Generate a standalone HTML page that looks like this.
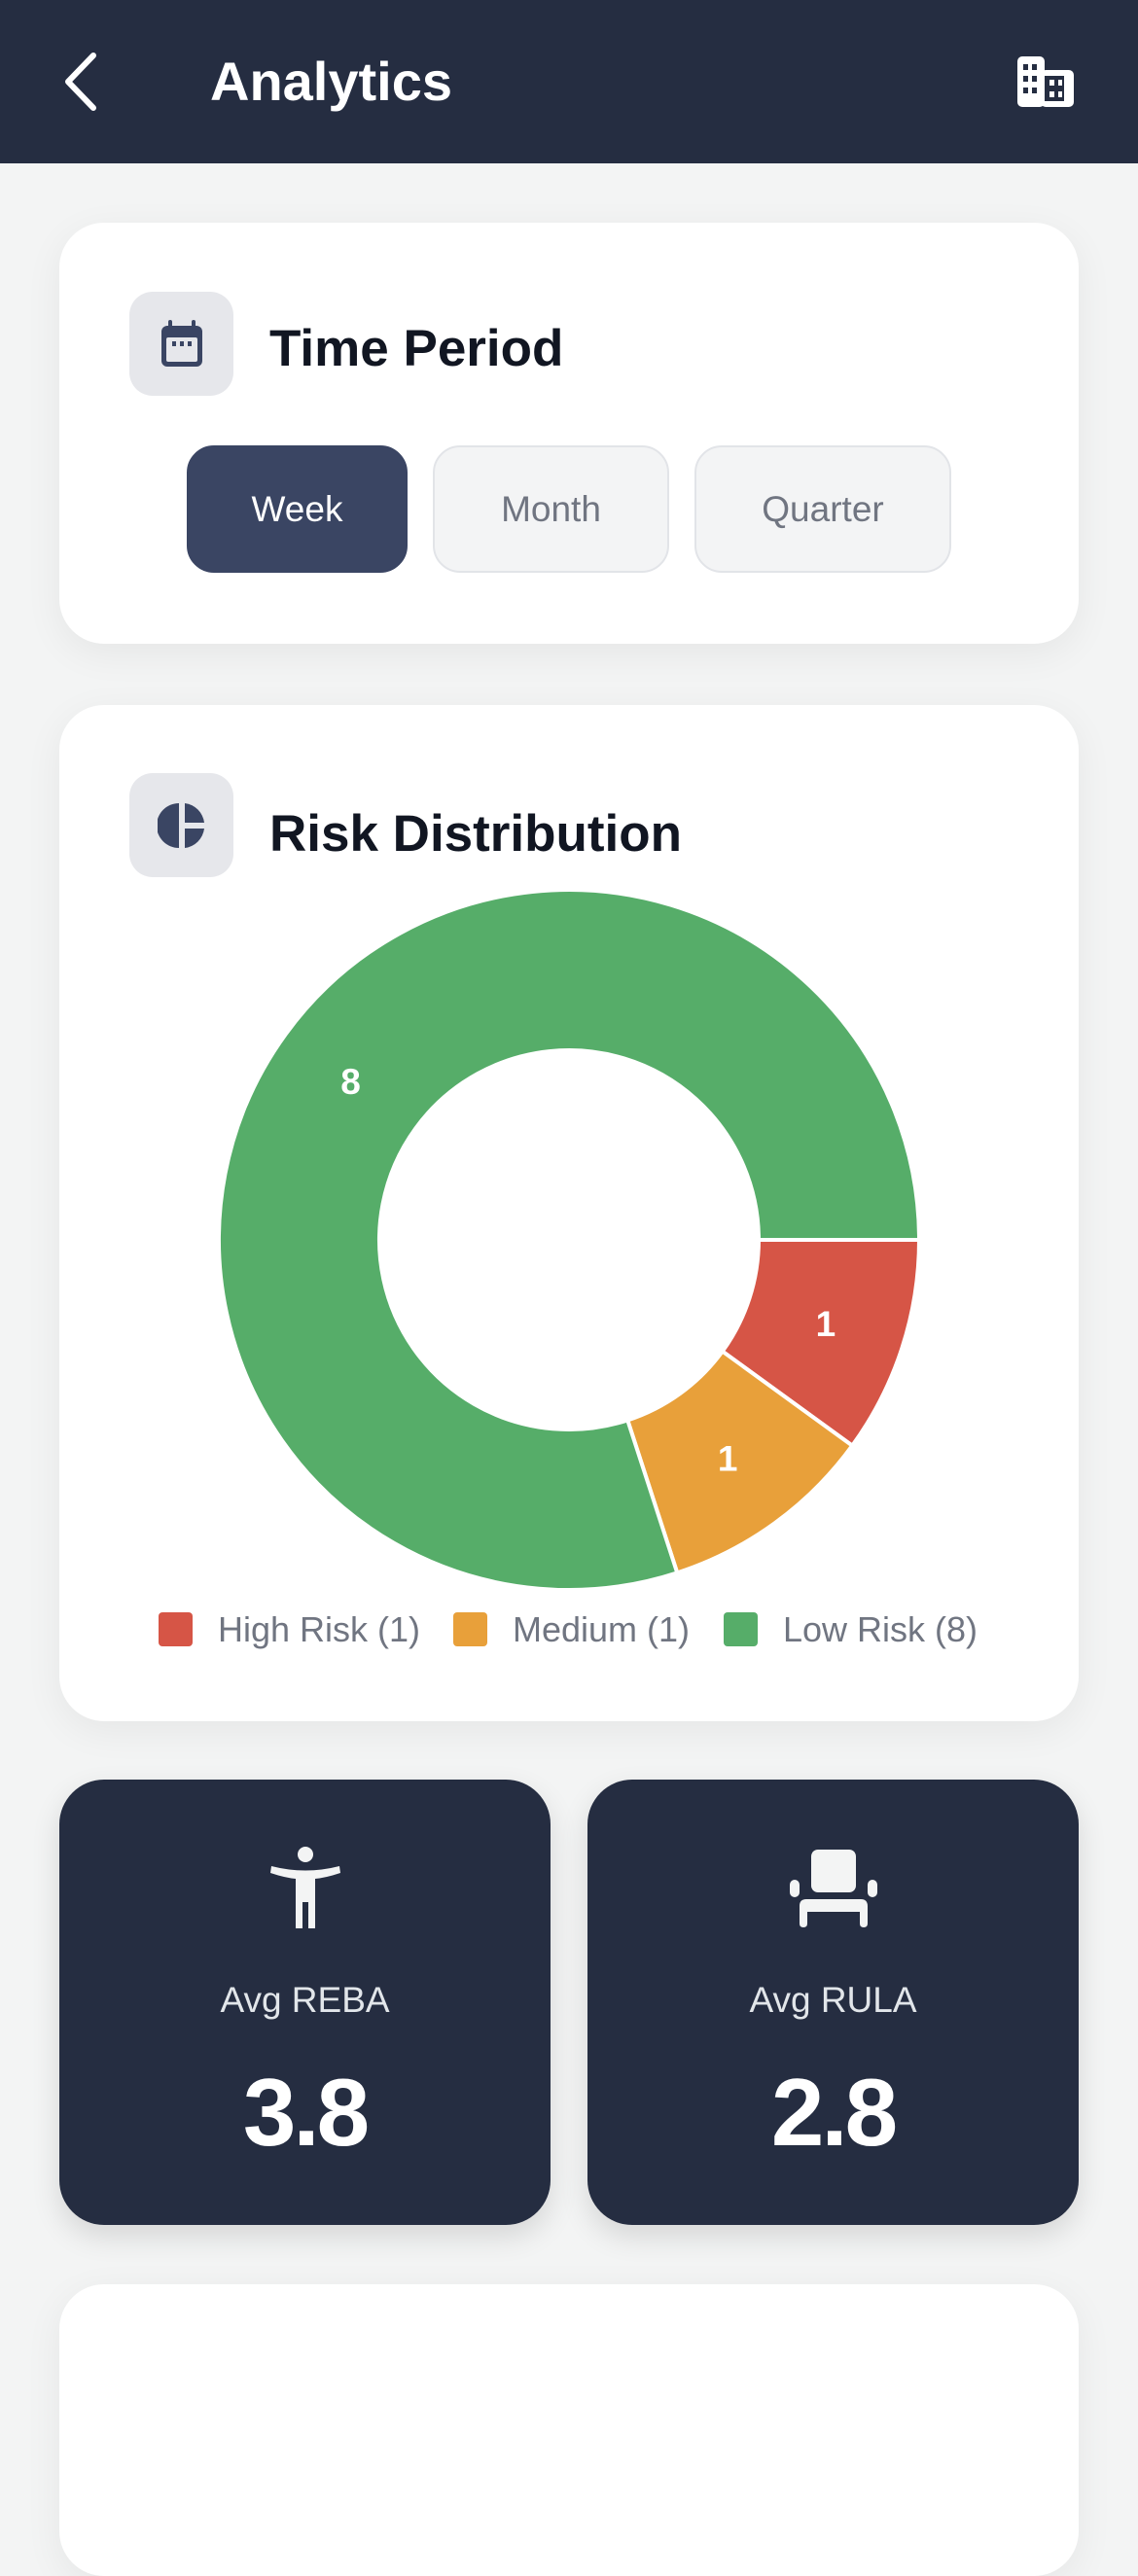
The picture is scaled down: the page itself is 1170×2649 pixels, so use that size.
<!DOCTYPE html>
<html><head><meta charset="utf-8">
<style>
*{margin:0;padding:0;box-sizing:border-box}
body{width:1170px;height:2391px;background:#f3f4f4;font-family:"Liberation Sans",sans-serif;position:relative;overflow:hidden}
.abs{position:absolute}
.card{position:absolute;background:#fff;border-radius:46px;box-shadow:0 10px 40px rgba(0,0,0,0.06)}
.ibox{position:absolute;width:107px;height:107px;border-radius:24px;background:#e6e7eb;display:flex;align-items:center;justify-content:center}
.title{position:absolute;font-weight:bold;font-size:53px;color:#111622;line-height:1}
.btn{position:absolute;height:131px;border-radius:28px;display:flex;align-items:center;justify-content:center;font-size:37px;color:#707581;background:#f3f4f5;border:2px solid #e2e4e8}
.stat{position:absolute;top:1830px;width:505px;height:458px;background:#252d41;border-radius:46px;box-shadow:0 12px 30px rgba(0,0,0,0.12);color:#fff;text-align:center}
.lbl{position:absolute;width:100%;top:206px;font-size:37px;color:#e2e6ea}
.val{position:absolute;width:100%;top:286px;font-size:98px;font-weight:bold;letter-spacing:-3px}
</style></head><body>
<div class="abs" style="left:0;top:0;width:1170px;height:168px;background:#252d41">
  <svg class="abs" style="left:60px;top:52px" width="50" height="64" viewBox="0 0 50 64"><polyline points="36,5 10,32 36,59" fill="none" stroke="#fff" stroke-width="6" stroke-linecap="round" stroke-linejoin="round"/></svg>
  <div class="abs" style="left:216px;top:56px;font-size:56px;font-weight:bold;color:#fff;line-height:1">Analytics</div>
  <svg class="abs" style="left:1044px;top:56px" width="62" height="56" viewBox="0 0 62 56">
    <rect x="2" y="2" width="28" height="52" rx="5" fill="#fff"/><rect x="26" y="16" width="34" height="38" rx="5" fill="#fff"/>
    <g fill="#252d41"><rect x="8" y="10" width="5" height="6"/><rect x="17" y="10" width="5" height="6"/><rect x="8" y="22" width="5" height="6"/><rect x="17" y="22" width="5" height="6"/><rect x="8" y="34" width="5" height="6"/><rect x="17" y="34" width="5" height="6"/><rect x="30" y="22" width="20" height="26"/></g>
    <g fill="#fff"><rect x="35" y="26" width="5" height="6"/><rect x="35" y="38" width="5" height="6"/><rect x="44" y="26" width="4" height="6"/><rect x="44" y="38" width="4" height="6"/></g>
  </svg>
</div>

<div class="card" style="left:61px;top:229px;width:1048px;height:433px">
  <div class="ibox" style="left:72px;top:71px">
    <svg width="48" height="52" viewBox="0 0 48 52"><rect x="3" y="7" width="42" height="42" rx="6" fill="#3a4563"/><rect x="8" y="19" width="32" height="25" rx="2" fill="#e6e7eb"/><rect x="10" y="1" width="4" height="10" rx="2" fill="#3a4563"/><rect x="34" y="1" width="4" height="10" rx="2" fill="#3a4563"/><g fill="#3a4563"><rect x="14" y="23" width="4" height="5"/><rect x="22" y="23" width="4" height="5"/><rect x="30" y="23" width="4" height="5"/></g></svg>
  </div>
  <div class="title" style="left:216px;top:103px">Time Period</div>
  <div class="btn" style="left:131px;top:229px;width:227px;background:#3a4563;border-color:#3a4563;color:#fff">Week</div>
  <div class="btn" style="left:384px;top:229px;width:243px">Month</div>
  <div class="btn" style="left:653px;top:229px;width:264px">Quarter</div>
</div>

<div class="card" style="left:61px;top:725px;width:1048px;height:1045px">
  <div class="ibox" style="left:72px;top:70px">
    <svg width="50" height="50" viewBox="0 0 50 50"><path d="M22 2 A23 23 0 0 0 22 48 Z" fill="#3a4563"/><path d="M28 2 A23 23 0 0 1 48 22 L28 22 Z" fill="#3a4563"/><path d="M28 28 L48 28 A23 23 0 0 1 28 48 Z" fill="#3a4563"/></svg>
  </div>
  <div class="title" style="left:216px;top:106px">Risk Distribution</div>
  <svg class="abs" id="donut" style="left:0;top:0" width="1048" height="1045"></svg>
</div>

<div class="stat" style="left:61px">
  <svg class="abs" style="left:214px;top:68px" width="78" height="86" viewBox="0 0 78 86"><circle cx="39" cy="9" r="8" fill="#f3f4f4"/><path d="M4 21 Q39 30 74 21 L75 28 Q60 33 49 34 L49 85 L42 85 L42 58 L36 58 L36 85 L29 85 L29 34 Q18 33 3 28 Z" fill="#f3f4f4"/></svg>
  <div class="lbl">Avg REBA</div>
  <div class="val">3.8</div>
</div>
<div class="stat" style="left:604px">
  <svg class="abs" style="left:208px;top:72px" width="90" height="80" viewBox="0 0 90 80"><rect x="22" y="0" width="46" height="44" rx="7" fill="#f3f4f4"/><rect x="0" y="31" width="10" height="18" rx="5" fill="#f3f4f4"/><rect x="80" y="31" width="10" height="18" rx="5" fill="#f3f4f4"/><path d="M10 58 Q10 51 17 51 L73 51 Q80 51 80 58 L80 76 Q80 80 76 80 Q72 80 72 76 L72 64 L18 64 L18 76 Q18 80 14 80 Q10 80 10 76 Z" fill="#f3f4f4"/></svg>
  <div class="lbl">Avg RULA</div>
  <div class="val">2.8</div>
</div>

<div class="card" style="left:61px;top:2349px;width:1048px;height:300px"></div>

<script>
const categories = ["High Risk", "Medium", "Low Risk"];
const counts = [1, 1, 8];
const colors = ["#d65546", "#e8a03a", "#56ad69"];
const svg = document.getElementById('donut');
const NS = 'http://www.w3.org/2000/svg';
const cx = 524, cy = 550, R = 360, r = 195;
const total = counts.reduce((a, b) => a + b, 0);
function pt(rad, a) { return [cx + rad * Math.cos(a), cy + rad * Math.sin(a)]; }
let a0 = 0;
counts.forEach((v, i) => {
  const a1 = a0 + v / total * Math.PI * 2;
  const large = (a1 - a0) > Math.PI ? 1 : 0;
  const [x0, y0] = pt(R, a0), [x1, y1] = pt(R, a1), [x2, y2] = pt(r, a1), [x3, y3] = pt(r, a0);
  const p = document.createElementNS(NS, 'path');
  p.setAttribute('d', `M${x0} ${y0} A${R} ${R} 0 ${large} 1 ${x1} ${y1} L${x2} ${y2} A${r} ${r} 0 ${large} 0 ${x3} ${y3} Z`);
  p.setAttribute('fill', colors[i]);
  p.setAttribute('stroke', '#fff');
  p.setAttribute('stroke-width', '4');
  
  
  svg.appendChild(p);
  const am = (a0 + a1) / 2;
  const [tx, ty] = pt((R + r) / 2, am);
  const t = document.createElementNS(NS, 'text');
  t.setAttribute('x', tx); t.setAttribute('y', ty + 13);
  t.setAttribute('text-anchor', 'middle');
  t.setAttribute('fill', '#fff');
  t.setAttribute('font-size', '37');
  t.setAttribute('font-weight', 'bold');
  t.setAttribute('font-family', 'Liberation Sans, sans-serif');
  
  
  t.textContent = v;
  svg.appendChild(t);
  a0 = a1;
});
const legX = [102, 405, 683];
categories.forEach((c, i) => {
  const g = document.createElementNS(NS, 'g');
  
  
  const s = document.createElementNS(NS, 'rect');
  s.setAttribute('x', legX[i]); s.setAttribute('y', 933); s.setAttribute('width', 35); s.setAttribute('height', 35); s.setAttribute('rx', 4);
  s.setAttribute('fill', colors[i]);
  g.appendChild(s);
  const t = document.createElementNS(NS, 'text');
  t.setAttribute('x', legX[i] + 61); t.setAttribute('y', 963);
  t.setAttribute('fill', '#707581'); t.setAttribute('font-size', '36');
  t.setAttribute('font-family', 'Liberation Sans, sans-serif');
  t.textContent = c + ' (' + counts[i] + ')';
  g.appendChild(t);
  svg.appendChild(g);
});
</script>
</body></html>
